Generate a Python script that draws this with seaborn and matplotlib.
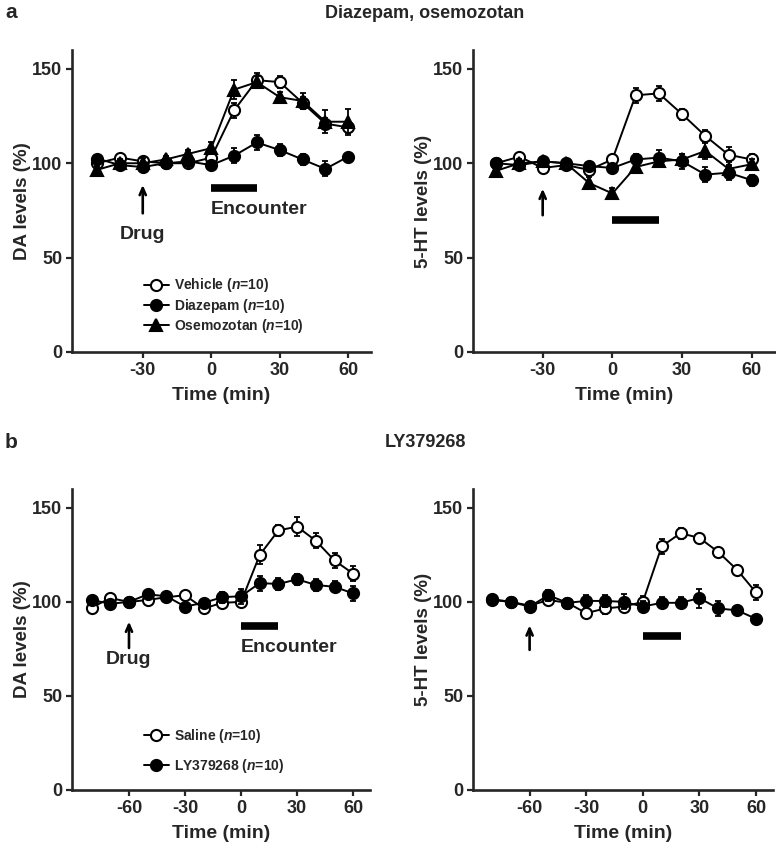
import matplotlib

matplotlib.use("Agg")
import matplotlib.pyplot as plt
import numpy as np
import seaborn as sns

# time points (min)
time_a = [-50, -40, -30, -20, -10, 0, 10, 20, 30, 40, 50, 60]
time_b = [-80, -70, -60, -50, -40, -30, -20, -10, 0, 10, 20, 30, 40, 50, 60]

# panel a, DA
da_vehicle = [100, 103, 101, 100, 100, 103, 128, 144, 143, 132, 121, 119]
da_vehicle_sem = [2, 2, 2, 2, 2, 2, 4, 4, 3, 3, 3, 3]
da_diazepam = [102.5, 99, 98, 100, 101, 99, 104, 111, 107, 102, 97, 103.5]
da_diazepam_sem = [2, 2, 2, 2, 2, 2, 4, 4, 3, 3, 4, 2]
da_osemozotan = [96.5, 100, 100, 102, 105, 108, 139, 143, 135, 133, 122, 122]
da_osemozotan_sem = [2, 2, 3, 2, 2, 3, 5, 3, 3, 4, 6, 7]

# panel a, 5-HT
ht_vehicle = [100, 103.5, 97.5, 99, 96.5, 102, 136, 137, 126, 114.5, 104.5, 102]
ht_vehicle_sem = [2, 2, 2, 2, 2, 2, 4, 4, 3, 3, 4, 3]
ht_diazepam = [100, 99, 101, 100, 98.5, 97.5, 102, 103, 101, 94, 95, 91]
ht_diazepam_sem = [2, 2, 2, 2, 2, 2, 3, 4, 4, 4, 4, 3]
ht_osemozotan = [96, 100, 101, 100, 89.5, 84, 98, 101, 102, 106.5, 97, 99.5]
ht_osemozotan_sem = [2, 2, 2, 2, 3, 3, 3, 3, 3, 4, 4, 3]

# panel b, DA
da_saline = [97, 102, 100, 101, 102.5, 103.5, 96.5, 99.5, 100, 125, 138, 140, 132.5, 122, 115]
da_saline_sem = [2, 2, 2, 2, 2, 2, 2, 2, 2, 5, 3, 5, 4, 4, 4]
da_ly = [101, 99, 100, 104, 103, 97.5, 99.5, 102.5, 103, 110, 109.5, 112, 109, 108, 104.5]
da_ly_sem = [2, 2, 2, 2, 2, 2, 2, 3, 4, 4, 3, 3, 3, 3, 4]

# panel b, 5-HT
ht_saline = [101, 100, 98, 101, 99.5, 94, 96.5, 97.5, 100, 129.5, 136.5, 134, 126.5, 117, 105]
ht_saline_sem = [2, 2, 2, 2, 2, 2, 3, 3, 3, 4, 3, 2, 2, 2, 4]
ht_ly = [101.5, 100, 97.5, 103.5, 99.5, 100.5, 100.5, 100, 97.5, 99.5, 99.5, 102, 96.5, 95.5, 91]
ht_ly_sem = [2, 2, 2, 3, 2, 3, 3, 4, 3, 3, 3, 5, 4, 2, 2]

drug_time_a = -30
drug_time_b = -60
encounter = (0, 20)

sns.set_style("ticks")
plt.rcParams["font.family"] = ["Liberation Sans", "DejaVu Sans"]
plt.rcParams["font.weight"] = "bold"
plt.rcParams["axes.unicode_minus"] = False
plt.rcParams["mathtext.fontset"] = "custom"
plt.rcParams["mathtext.it"] = "Liberation Sans:italic:bold"
plt.rcParams["mathtext.rm"] = "Liberation Sans:bold"

OPEN = dict(marker="o", markerfacecolor="white")
FILLED = dict(marker="o", markerfacecolor="black")
TRI = dict(marker="^", markerfacecolor="black")


def draw_series(ax, t, y, sem, style, label, z):
    ax.errorbar(t, y, yerr=sem, fmt="none", ecolor="black", elinewidth=1.3,
                capsize=2.5, capthick=1.3, zorder=z)
    sns.lineplot(x=t, y=y, ax=ax, color="black", linewidth=1.4, markersize=8,
                 markeredgecolor="black", markeredgewidth=1.5, label=label,
                 zorder=z + 0.5, errorbar=None, **style)


def style_axes(ax, xlim, xticks, ylabel):
    ax.set_xlim(*xlim)
    ax.set_ylim(0, 160)
    ax.set_xticks(xticks)
    ax.set_yticks([0, 50, 100, 150])
    sns.despine(ax=ax)
    for side in ("left", "bottom"):
        ax.spines[side].set_linewidth(1.9)
    ax.tick_params(width=1.6, length=4.5, pad=2.5, labelsize=13, direction="out")
    for lab in ax.get_xticklabels() + ax.get_yticklabels():
        lab.set_fontweight("bold")
    ax.set_xlabel("Time (min)", fontsize=14, fontweight="bold", labelpad=6)
    ax.set_ylabel(ylabel, fontsize=13.5, fontweight="bold", labelpad=1)


def mark_drug(ax, t, y0, y1, text_y=None):
    ax.annotate("", xy=(t, y1), xytext=(t, y0),
                arrowprops=dict(arrowstyle="->,head_length=0.5,head_width=0.22",
                                lw=1.9, color="black"))
    if text_y is not None:
        ax.text(t, text_y, "Drug", ha="center", va="center", fontsize=14,
                fontweight="bold")


def mark_encounter(ax, y, text_y=None):
    ax.plot(list(encounter), [y, y], color="black", lw=5.5, solid_capstyle="butt")
    if text_y is not None:
        ax.text(encounter[0], text_y, "Encounter", ha="left", va="center",
                fontsize=14, fontweight="bold")


fig = plt.figure(figsize=(7.76, 8.59), dpi=100)
W, H = 776, 859


def add_axes(left, right, top, bottom):
    return fig.add_axes([left / W, 1 - bottom / H, (right - left) / W, (bottom - top) / H])


ax1 = add_axes(72, 371, 50, 352)
ax2 = add_axes(473, 775, 50, 352)
ax3 = add_axes(72, 370, 489, 790)
ax4 = add_axes(473, 773, 489, 790)

# a, DA
draw_series(ax1, time_a, da_vehicle, da_vehicle_sem, OPEN, "Vehicle ($n$=10)", 3)
draw_series(ax1, time_a, da_diazepam, da_diazepam_sem, FILLED, "Diazepam ($n$=10)", 4)
draw_series(ax1, time_a, da_osemozotan, da_osemozotan_sem, TRI, "Osemozotan ($n$=10)", 5)
style_axes(ax1, (-61, 70), [-30, 0, 30, 60], "DA levels (%)")
mark_drug(ax1, drug_time_a, 72, 90, text_y=62)
mark_encounter(ax1, 87, text_y=75.5)
ax1.legend(loc="upper left", bbox_to_anchor=(0.24, 0.25), frameon=False,
           fontsize=10, handlelength=1.8, handletextpad=0.4,
           labelspacing=0.15, borderaxespad=0, borderpad=0)

# a, 5-HT
draw_series(ax2, time_a, ht_vehicle, ht_vehicle_sem, OPEN, None, 3)
draw_series(ax2, time_a, ht_diazepam, ht_diazepam_sem, FILLED, None, 4)
draw_series(ax2, time_a, ht_osemozotan, ht_osemozotan_sem, TRI, None, 5)
style_axes(ax2, (-60, 70), [-30, 0, 30, 60], "5-HT levels (%)")
mark_drug(ax2, drug_time_a, 71, 88)
mark_encounter(ax2, 70)
if ax2.get_legend():
    ax2.get_legend().remove()

# b, DA
draw_series(ax3, time_b, da_saline, da_saline_sem, OPEN, "Saline ($n$=10)", 3)
draw_series(ax3, time_b, da_ly, da_ly_sem, FILLED, "LY379268 ($n$=10)", 4)
style_axes(ax3, (-90.5, 69), [-60, -30, 0, 30, 60], "DA levels (%)")
mark_drug(ax3, drug_time_b, 74, 91, text_y=69.5)
mark_encounter(ax3, 87, text_y=75.5)
ax3.legend(loc="upper left", bbox_to_anchor=(0.24, 0.21), frameon=False,
           fontsize=10, handlelength=1.8, handletextpad=0.4,
           labelspacing=0.85, borderaxespad=0, borderpad=0)

# b, 5-HT
draw_series(ax4, time_b, ht_saline, ht_saline_sem, OPEN, None, 3)
draw_series(ax4, time_b, ht_ly, ht_ly_sem, FILLED, None, 4)
style_axes(ax4, (-90, 69), [-60, -30, 0, 30, 60], "5-HT levels (%)")
mark_drug(ax4, drug_time_b, 73, 89)
mark_encounter(ax4, 82)
if ax4.get_legend():
    ax4.get_legend().remove()

fig.text(5 / W, 1 - 12 / H, "a", fontsize=15, fontweight="bold", va="center", ha="left")
fig.text(425 / W, 1 - 14 / H, "Diazepam, osemozotan", fontsize=13, fontweight="bold",
         va="center", ha="center")
fig.text(5 / W, 1 - 442 / H, "b", fontsize=15, fontweight="bold", va="center", ha="left")
fig.text(425 / W, 1 - 442 / H, "LY379268", fontsize=13, fontweight="bold",
         va="center", ha="center")

fig.savefig("out.png", dpi=100)
